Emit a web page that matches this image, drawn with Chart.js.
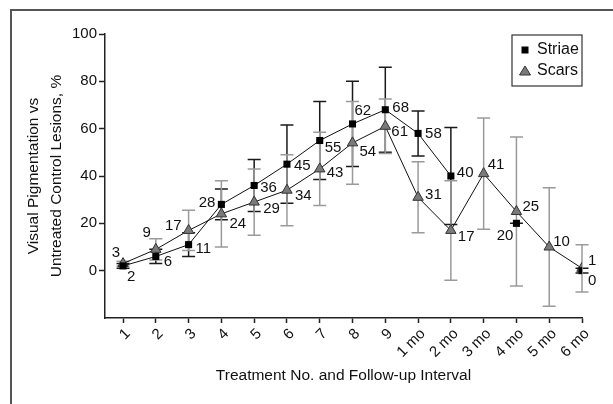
<!DOCTYPE html>
<html>
<head>
<meta charset="utf-8">
<script src="https://cdn.jsdelivr.net/npm/chart.js@4"></script>
<style>
html, body { margin: 0; padding: 0; background: #fff; }
#wrap { width: 613px; height: 404px; position: relative; }
</style>
</head>
<body>
<div id="wrap"><canvas id="chart"></canvas></div>
<script>
// Categories and ticks
const X_LABELS = ['1', '2', '3', '4', '5', '6', '7', '8', '9', '1 mo', '2 mo', '3 mo', '4 mo', '5 mo', '6 mo'];
const Y_TICKS = [0, 20, 40, 60, 80, 100];

// Series values (null = no measurement)
const STRIAE = [2, 6, 11, 28, 36, 45, 55, 62, 68, 58, 40, null, 20, null, 0];
const STRIAE_ERR = [1, 3, 5, 6.5, 11, 16.5, 16.5, 18, 18, 9.5, 20.5, null, 0, null, 1];
const SCARS = [3, 9, 17, 24, 29, 34, 43, 54, 61, 31, 17, 41, 25, 10, 1];
const SCARS_ERR = [1, 4.5, 8.5, 14, 14, 15, 15.5, 17.5, 11.5, 15, 21, 23.5, 31.5, 25, 10];

// Where each value label sits relative to its marker [dx, dy]
const STRIAE_LABEL_POS = [[4, 11], [8, 5], [7, 4], [-6, -2], [6, 2], [7, 2], [5, 7], [2, -13], [7, -2], [7, 0], [6, -3], null, [-3, 13], null, [6, 10]];
const SCARS_LABEL_POS = [[-3, -11], [-5, -17], [-7, -5], [8, 10], [9, 7], [8, 6], [7, 4], [7, 9], [6, 6], [7, -2], [7, 6], [4, -9], [6, -5], [4, -5], [6, -7]];

const FONT = "'Liberation Sans Narrow', 'Arial Narrow', 'Liberation Sans', Arial, sans-serif";

function toPoints(values) {
    return values.map((v, i) => ({ x: i + 1, y: v }));
}

// Outer frame (only top and left edges are visible in the figure)
const framePlugin = {
    id: 'frame',
    beforeDraw(chart) {
        const ctx = chart.ctx;
        ctx.save();
        ctx.fillStyle = '#fff';
        ctx.fillRect(0, 0, chart.width, chart.height);
        ctx.strokeStyle = '#555';
        ctx.lineWidth = 2;
        ctx.beginPath();
        ctx.moveTo(11, chart.height);
        ctx.lineTo(11, 10);
        ctx.lineTo(chart.width, 10);
        ctx.stroke();
        ctx.restore();
    }
};

// Error bars with caps, drawn under the markers
const errorBarPlugin = {
    id: 'errorBars',
    beforeDatasetsDraw(chart) {
        const { ctx, scales: { x, y } } = chart;
        ctx.save();
        chart.data.datasets.forEach(ds => {
            ctx.strokeStyle = ds.errorColor;
            ctx.lineWidth = 1.5;
            ds.data.forEach((p, j) => {
                const e = ds.errors[j];
                if (p.y == null || e == null) return;
                const px = x.getPixelForValue(p.x);
                const top = y.getPixelForValue(p.y + e);
                const bot = y.getPixelForValue(p.y - e);
                ctx.beginPath();
                ctx.moveTo(px, top);
                ctx.lineTo(px, bot);
                ctx.moveTo(px - 6.5, top);
                ctx.lineTo(px + 6.5, top);
                ctx.moveTo(px - 6.5, bot);
                ctx.lineTo(px + 6.5, bot);
                ctx.stroke();
            });
        });
        ctx.restore();
    }
};

// Value labels next to each marker
const valueLabelPlugin = {
    id: 'valueLabels',
    afterDatasetsDraw(chart) {
        const { ctx, scales: { x, y } } = chart;
        ctx.save();
        ctx.font = '15px ' + FONT;
        ctx.fillStyle = '#111';
        ctx.textBaseline = 'middle';
        chart.data.datasets.forEach(ds => {
            ds.data.forEach((p, j) => {
                const pos = ds.labelPos[j];
                if (p.y == null || !pos) return;
                ctx.textAlign = pos[0] < 0 ? 'right' : 'left';
                ctx.fillText(String(p.y), x.getPixelForValue(p.x) + pos[0], y.getPixelForValue(p.y) + pos[1]);
            });
        });
        ctx.restore();
    }
};

// Boxed legend in the upper right of the plot
const legendBoxPlugin = {
    id: 'legendBox',
    afterDraw(chart) {
        const { ctx, chartArea } = chart;
        const left = chartArea.right - 70;
        const top = chartArea.top + 1;
        ctx.save();
        ctx.strokeStyle = '#333';
        ctx.lineWidth = 1.2;
        ctx.strokeRect(left, top, 70, 51);
        ctx.font = '16px ' + FONT;
        ctx.textBaseline = 'middle';
        ctx.textAlign = 'left';

        const cx = left + 13;
        // square
        ctx.fillStyle = '#000';
        ctx.fillRect(cx - 3.5, top + 15 - 3.5, 7, 7);
        // triangle
        ctx.beginPath();
        ctx.moveTo(cx, top + 31);
        ctx.lineTo(cx + 5.5, top + 40);
        ctx.lineTo(cx - 5.5, top + 40);
        ctx.closePath();
        ctx.fillStyle = '#7a7a7a';
        ctx.fill();
        ctx.strokeStyle = '#333';
        ctx.lineWidth = 1;
        ctx.stroke();

        ctx.fillStyle = '#111';
        ctx.fillText(chart.data.datasets[0].label, left + 25, top + 15);
        ctx.fillText(chart.data.datasets[1].label, left + 25, top + 36);
        ctx.restore();
    }
};

const ctx = document.getElementById('chart');

new Chart(ctx, {
    type: 'line',
    data: {
        datasets: [
            {
                label: 'Striae',
                data: toPoints(STRIAE),
                errors: STRIAE_ERR,
                labelPos: STRIAE_LABEL_POS,
                errorColor: '#1a1a1a',
                borderColor: '#111',
                borderWidth: 1,
                pointStyle: 'rect',
                pointRadius: 5,
                pointBackgroundColor: '#000',
                pointBorderColor: '#000',
                pointBorderWidth: 0,
                spanGaps: false,
                tension: 0
            },
            {
                label: 'Scars',
                data: toPoints(SCARS),
                errors: SCARS_ERR,
                labelPos: SCARS_LABEL_POS,
                errorColor: '#9a9a9a',
                borderColor: '#111',
                borderWidth: 1,
                pointStyle: 'triangle',
                pointRadius: 6,
                pointBackgroundColor: '#7a7a7a',
                pointBorderColor: '#333',
                pointBorderWidth: 1,
                tension: 0
            }
        ]
    },
    options: {
        responsive: true,
        maintainAspectRatio: false,
        animation: false,
        events: [],
        layout: { padding: { left: 22, top: 34, right: 31, bottom: 15 } },
        plugins: {
            legend: { display: false },
            tooltip: { enabled: false }
        },
        scales: {
            x: {
                type: 'linear',
                min: 0.45,
                max: 15,
                afterBuildTicks: scale => {
                    scale.ticks = X_LABELS.map((_, i) => ({ value: i + 1 }));
                },
                afterFit: scale => { scale.height = 71; },
                ticks: {
                    autoSkip: false,
                    minRotation: 45,
                    maxRotation: 45,
                    padding: 2,
                    labelOffset: 5,
                    color: '#111',
                    font: { family: FONT, size: 15 },
                    callback: v => X_LABELS[v - 1]
                },
                grid: { drawOnChartArea: false, tickLength: 5, color: '#222', tickWidth: 1.5 },
                border: { color: '#222', width: 1.5 },
                title: {
                    display: true,
                    text: 'Treatment No. and Follow-up Interval',
                    color: '#111',
                    font: { family: FONT, size: 15.5 }
                }
            },
            y: {
                min: -20,
                max: 100,
                afterBuildTicks: scale => {
                    scale.ticks = Y_TICKS.map(v => ({ value: v }));
                },
                afterFit: scale => { scale.width = 83; },
                ticks: {
                    padding: 2,
                    color: '#111',
                    font: { family: FONT, size: 15 }
                },
                grid: { drawOnChartArea: false, tickLength: 6, color: '#222', tickWidth: 1.5 },
                border: { color: '#222', width: 1.5 },
                title: {
                    display: true,
                    text: ['Visual Pigmentation vs', 'Untreated Control Lesions, %'],
                    color: '#111',
                    padding: 0,
                    font: { family: FONT, size: 15.5, lineHeight: 1.5 }
                }
            }
        }
    },
    plugins: [framePlugin, errorBarPlugin, valueLabelPlugin, legendBoxPlugin]
});
</script>
</body>
</html>
